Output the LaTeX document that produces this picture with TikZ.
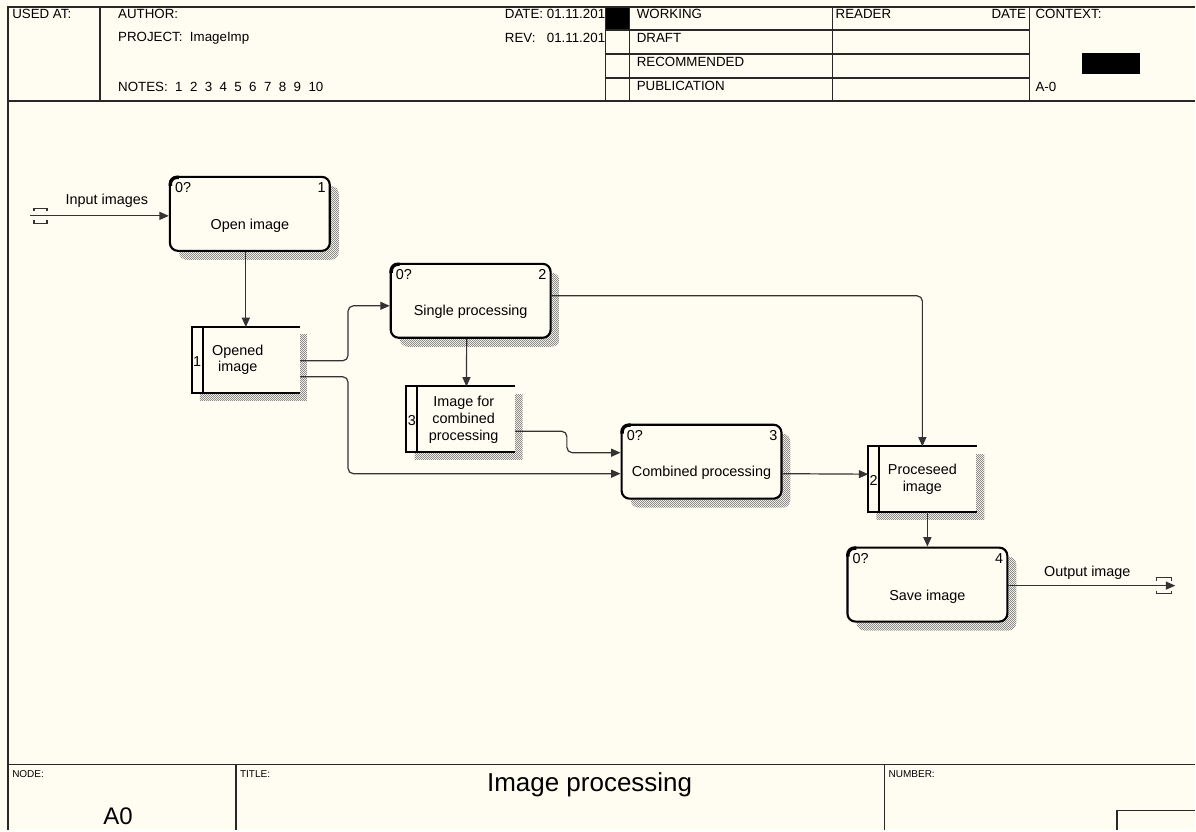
\documentclass[tikz,border=0pt]{standalone}
\usepackage{fontspec}
\setmainfont{Liberation Sans}
\definecolor{idefbg}{RGB}{255,252,242}
\definecolor{idefline}{RGB}{40,40,40}
\usetikzlibrary{arrows.meta,calc,patterns}
\pgfdeclarepatternformonly{idefhatch}{\pgfqpoint{0pt}{0pt}}{\pgfqpoint{1.5pt}{1.5pt}}{\pgfqpoint{1.5pt}{1.5pt}}{%
  \pgfpathrectangle{\pgfqpoint{0pt}{0pt}}{\pgfqpoint{0.75pt}{0.75pt}}%
  \pgfpathrectangle{\pgfqpoint{0.75pt}{0.75pt}}{\pgfqpoint{0.75pt}{0.75pt}}%
  \pgfusepath{fill}}

\begin{document}
\begin{tikzpicture}[x=0.75pt,y=-0.75pt,
  frame/.style={draw=idefline, line width=1.2pt},
  hdr/.style={font=\fontsize{10}{12}\selectfont, anchor=west, inner sep=0pt},
  small/.style={font=\fontsize{7.5}{9}\selectfont, anchor=west, inner sep=0pt},
  activity/.style={draw=black, line width=1.6pt, rounded corners=6pt, fill=idefbg, minimum width=120pt, minimum height=55.5pt, inner sep=0pt},
  corner/.style={draw=black, line width=2.6pt, rounded corners=5pt},
  actshadow/.style={pattern=idefhatch, pattern color=black!45, rounded corners=6pt},
  storeshadow/.style={pattern=idefhatch, pattern color=black!45},
  store/.style={fill=idefbg, minimum width=81pt, minimum height=48.75pt, inner sep=0pt},
  storeline/.style={draw=black, line width=1.5pt},
  boxtext/.style={font=\fontsize{10.8}{12.6}\selectfont, align=center, inner sep=0pt},
  boxnum/.style={font=\fontsize{10.8}{12.6}\selectfont, inner sep=0pt},
  flow/.style={draw=black!80, line width=0.9pt, rounded corners=4pt, -{Triangle[length=7pt,width=6pt]}},
  tunnel/.style={draw=black!80, line width=1pt},
]
  \fill[idefbg] (0,0) rectangle (1196,831);

  % Header texts
  \node[hdr] (usedat) at (12,14) {USED AT:};
  \node[hdr] (author) at (118,14) {AUTHOR:};
  \node[hdr] (project) at (118,38) {PROJECT:\ \ ImageImp};
  \node[hdr] (notes) at (118,87) {NOTES:\ \ 1\ \ 2\ \ 3\ \ 4\ \ 5\ \ 6\ \ 7\ \ 8\ \ 9\ \ 10};
  \node[hdr] (date) at (505,14) {DATE: 01.11.2016};
  \node[hdr] (rev) at (505,38) {\rlap{REV:}\phantom{DATE: }01.11.2016};
  \fill (606,7) rectangle (630,30);
  \fill[idefbg] (606,30) rectangle (630,101);
  \fill (1083,53) rectangle (1141,74);
  \node[hdr] (working) at (637,14) {WORKING};
  \node[hdr] (draft) at (637,38) {DRAFT};
  \node[hdr] (recom) at (637,62) {RECOMMENDED};
  \node[hdr] (publ) at (637,86) {PUBLICATION};
  \node[hdr] (reader) at (836,14) {READER};
  \node[hdr, anchor=east] (rdate) at (1027,14) {DATE};
  \node[hdr] (context) at (1036,14) {CONTEXT:};
  \node[hdr] (ctxnode) at (1036,87) {A-0};

  % Header frame
  \draw[frame] (8,831) -- (8,7) -- (1196,7);
  \draw[frame] (8,101) -- (1196,101);
  \draw[frame] (100,7) -- (100,101);
  \draw[frame] (606,7) -- (606,101);
  \draw[frame] (630,7) -- (630,101);
  \draw[frame] (833,7) -- (833,101);
  \draw[frame] (1030,7) -- (1030,101);
  \draw[frame] (606,30) -- (1030,30);
  \draw[frame] (606,54) -- (1030,54);
  \draw[frame] (606,78) -- (1030,78);

  % Footer frame
  \draw[frame] (8,765) -- (1196,765);
  \draw[frame] (236,765) -- (236,831);
  \draw[frame] (885,765) -- (885,831);
  \draw[frame] (1196,811) -- (1118,811) -- (1118,831);
  \node[small] (nodelbl) at (12,775) {NODE:};
  \node[small] (titlelbl) at (240,775) {TITLE:};
  \node[small] (numberlbl) at (889,775) {NUMBER:};
  \node[font=\fontsize{18}{21}\selectfont, inner sep=0pt] (nodeval) at (118,817) {A0};
  \node[font=\fontsize{19.5}{22}\selectfont, inner sep=0pt] (title) at (590,785) {Image processing};

  % Shadows
  \fill[actshadow] (179,186) rectangle (339,260);
  \fill[actshadow] (400,273) rectangle (560,347);
  \fill[actshadow] (631,434) rectangle (791,508);
  \fill[actshadow] (857,557) rectangle (1017,631);
  \fill[storeshadow] (200,335) rectangle (308,401);
  \fill[storeshadow] (415,395) rectangle (523,460);
  \fill[storeshadow] (877,455) rectangle (985,520);

  % Activities
  \node[activity] (open) at (250,214) {};
  \node[activity] (single) at (471,301) {};
  \node[activity] (combined) at (702,462) {};
  \node[activity] (save) at (928,585) {};
  \foreach \a in {open,single,combined,save}
    \draw[corner] ($(\a.north west)+(1.5,10)$) -- ($(\a.north west)+(1.5,1.5)$) -- ($(\a.north west)+(10,1.5)$);

  \node[boxtext] (open-t) at ($(open.center)+(0,12)$) {Open image};
  \node[boxnum, anchor=west] (open-id) at ($(open.north west)+(6,12)$) {0?};
  \node[boxnum, anchor=east] (open-n) at ($(open.north east)+(-5,12)$) {1};

  \node[boxtext] (single-t) at ($(single.center)+(0,11)$) {Single processing};
  \node[boxnum, anchor=west] (single-id) at ($(single.north west)+(6,12)$) {0?};
  \node[boxnum, anchor=east] (single-n) at ($(single.north east)+(-5,12)$) {2};

  \node[boxtext] (combined-t) at ($(combined.center)+(0,11)$) {Combined processing};
  \node[boxnum, anchor=west] (combined-id) at ($(combined.north west)+(6,12)$) {0?};
  \node[boxnum, anchor=east] (combined-n) at ($(combined.north east)+(-5,12)$) {3};

  \node[boxtext] (save-t) at ($(save.center)+(0,12)$) {Save image};
  \node[boxnum, anchor=west] (save-id) at ($(save.north west)+(6,12)$) {0?};
  \node[boxnum, anchor=east] (save-n) at ($(save.north east)+(-5,12)$) {4};

  % Data stores
  \node[store] (opened) at (246,360) {};
  \node[store] (imgcomb) at (461,419.5) {};
  \node[store] (proc) at (923,479.5) {};
  \foreach \s in {opened,imgcomb,proc} {
    \draw[storeline] (\s.north east) -- (\s.north west) -- (\s.south west) -- (\s.south east);
    \draw[storeline] ($(\s.north west)+(11,0)$) -- ($(\s.south west)+(11,0)$);
  }
  \node[boxnum] (opened-n) at ($(opened.west)+(5.5,2)$) {1};
  \node[boxtext] (opened-t) at (238,360) {Opened\\image};
  \node[boxnum] (imgcomb-n) at ($(imgcomb.west)+(5.5,1)$) {3};
  \node[boxtext] (imgcomb-t) at (464,420) {Image for\\combined\\processing};
  \node[boxnum] (proc-n) at ($(proc.west)+(5.5,1)$) {2};
  \node[boxtext] (proc-t) at (923,479.5) {Proceseed\\image};

  % Tunnels
  \draw[tunnel] (34,211) -- (34,208.5) -- (47,208.5) -- (47,211);
  \draw[tunnel] (34,220.5) -- (34,223.5) -- (47,223.5) -- (47,220.5);
  \draw[tunnel] (1157,581) -- (1157,578) -- (1172,578) -- (1172,581);
  \draw[tunnel] (1157,591) -- (1157,594) -- (1172,594) -- (1172,591);

  % Arrows
  \coordinate (in-end) at (30,216);
  \coordinate (out-end) at (1176,586);
  \draw[flow] (in-end) -- (in-end -| open.west);
  \node[boxtext] (in-lbl) at (107,201) {Input images};
  \draw[flow] (opened.north |- open.south) -- (opened.north);
  \draw[flow] ($(opened.east)+(0,1)$) -- ++(48,0) |- ($(single.west)+(0,5)$);
  \draw[flow] ($(opened.east)+(0,17)$) -- ++(48,0) |- ($(combined.west)+(0,12)$);
  \draw[flow] ($(single.south)+(-4,0)$) -- ($(imgcomb.north west)+(60,0)$);
  \draw[flow] ($(imgcomb.east)+(0,12)$) -- ++(52,0) |- ($(combined.west)+(0,-9)$);
  \draw[flow] ($(single.east)+(0,-5)$) -| (proc.north);
  \draw[flow] ($(combined.east)+(0,12)$) -- ($(proc.west)+(0,-5)$);
  \draw[flow] (save.north |- proc.south) -- (save.north);
  \draw[flow] (save.east |- out-end) -- (out-end);
  \node[boxtext] (out-lbl) at (1088,573) {Output image};
\end{tikzpicture}
\end{document}
